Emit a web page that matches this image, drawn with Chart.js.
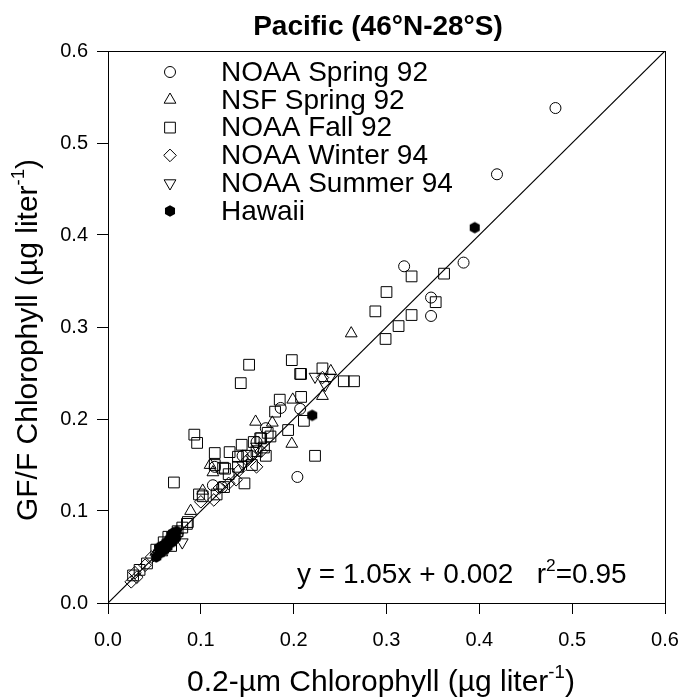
<!DOCTYPE html>
<html>
<head>
<meta charset="utf-8">
<script src="https://cdn.jsdelivr.net/npm/chart.js@4/dist/chart.umd.min.js"></script>
<style>
  html, body { margin: 0; padding: 0; background: #fff; }
  canvas { display: block; }
</style>
</head>
<body>
<canvas id="chart" width="679" height="698"></canvas>
<script>
// values: [0.2-um chl, GF/F chl]
const noaaSpring92 = [
  [0.482, 0.538], [0.419, 0.466], [0.383, 0.370], [0.319, 0.366], [0.348, 0.332],
  [0.348, 0.312], [0.204, 0.137], [0.207, 0.211], [0.186, 0.212], [0.170, 0.190],
  [0.113, 0.128], [0.123, 0.126], [0.160, 0.175], [0.145, 0.160], [0.115, 0.148]
];
const nsfSpring92 = [
  [0.262, 0.293], [0.240, 0.252], [0.231, 0.225], [0.198, 0.173], [0.199, 0.221],
  [0.159, 0.197], [0.177, 0.196], [0.113, 0.142], [0.089, 0.100], [0.110, 0.150],
  [0.070, 0.070], [0.058, 0.055], [0.102, 0.122]
];
const noaaFall92 = [
  [0.327, 0.355], [0.362, 0.358], [0.300, 0.338], [0.353, 0.327], [0.288, 0.317],
  [0.327, 0.313], [0.313, 0.301], [0.299, 0.287], [0.254, 0.241], [0.265, 0.241],
  [0.231, 0.255], [0.208, 0.249], [0.152, 0.259], [0.143, 0.239], [0.198, 0.264],
  [0.207, 0.249], [0.185, 0.221], [0.208, 0.224], [0.093, 0.183], [0.096, 0.174],
  [0.223, 0.160], [0.211, 0.198], [0.180, 0.208], [0.194, 0.188], [0.164, 0.179],
  [0.131, 0.164], [0.115, 0.163], [0.144, 0.172], [0.140, 0.159], [0.124, 0.147],
  [0.115, 0.150], [0.147, 0.130], [0.140, 0.148], [0.071, 0.131], [0.102, 0.116],
  [0.098, 0.118], [0.126, 0.146], [0.125, 0.126], [0.085, 0.086], [0.086, 0.088],
  [0.165, 0.179], [0.157, 0.175], [0.175, 0.181], [0.168, 0.169], [0.172, 0.185],
  [0.160, 0.165], [0.150, 0.160], [0.170, 0.160], [0.117, 0.118], [0.130, 0.140],
  [0.042, 0.043], [0.027, 0.030], [0.075, 0.078], [0.065, 0.072], [0.060, 0.066],
  [0.052, 0.058], [0.068, 0.062], [0.155, 0.150], [0.034, 0.036], [0.080, 0.082]
];
const noaaWinter94 = [
  [0.138, 0.134], [0.114, 0.112], [0.160, 0.148], [0.141, 0.144], [0.130, 0.130],
  [0.150, 0.155], [0.231, 0.245], [0.165, 0.165], [0.155, 0.160], [0.100, 0.110],
  [0.047, 0.050], [0.040, 0.041], [0.029, 0.033], [0.025, 0.023], [0.031, 0.028],
  [0.052, 0.052], [0.058, 0.060], [0.120, 0.125]
];
const noaaSummer94 = [
  [0.223, 0.246], [0.234, 0.237], [0.239, 0.245], [0.080, 0.066], [0.160, 0.170],
  [0.065, 0.062], [0.075, 0.072], [0.055, 0.054], [0.145, 0.150]
];
const hawaii = [
  [0.395, 0.408], [0.220, 0.204], [0.066, 0.068], [0.059, 0.058], [0.070, 0.076],
  [0.062, 0.063], [0.056, 0.054], [0.073, 0.071], [0.064, 0.061], [0.068, 0.074],
  [0.060, 0.057], [0.052, 0.050], [0.055, 0.060], [0.063, 0.066], [0.067, 0.070],
  [0.071, 0.073], [0.074, 0.078], [0.058, 0.062], [0.061, 0.059], [0.069, 0.066]
];
// the drawn line runs corner to corner
const lineX = [0, 0.6];
const lineY = [0, 0.6];
const tickValues = [0, 0.1, 0.2, 0.3, 0.4, 0.5, 0.6];

const FONT = "'Liberation Sans', Arial, sans-serif";
Chart.defaults.font.family = FONT;
Chart.defaults.color = '#000';

// filled hexagon used for the Hawaii points
function makeHexagon(r) {
    const c = document.createElement('canvas');
    const s = Math.ceil(r * 2 + 2);
    c.width = s; c.height = s;
    const g = c.getContext('2d');
    g.fillStyle = '#000';
    g.beginPath();
    for (let i = 0; i < 6; i++) {
        const a = Math.PI / 2 + i * Math.PI / 3;
        const px = s / 2 + r * Math.cos(a), py = s / 2 + r * Math.sin(a);
        if (i === 0) g.moveTo(px, py); else g.lineTo(px, py);
    }
    g.closePath();
    g.fill();
    return c;
}
const hex = makeHexagon(5.8);

const toPts = arr => arr.map(p => ({ x: p[0], y: p[1] }));

function scatterSet(label, arr, style, radius, rotation) {
    return {
        type: 'scatter',
        label: label,
        data: toPts(arr),
        pointStyle: style,
        pointRadius: radius,
        pointRotation: rotation || 0,
        borderColor: '#000',
        backgroundColor: 'rgba(0,0,0,0)',
        borderWidth: 1
    };
}

const datasets = [
    {
        type: 'line',
        label: 'fit',
        data: lineX.map((x, i) => ({ x: x, y: lineY[i] })),
        borderColor: '#000',
        borderWidth: 1.2,
        pointRadius: 0,
        fill: false
    },
    scatterSet('NOAA Spring 92', noaaSpring92, 'circle', 5.5),
    scatterSet('NSF Spring 92', nsfSpring92, 'triangle', 6.8),
    scatterSet('NOAA Fall 92', noaaFall92, 'rect', 7.6),
    scatterSet('NOAA Winter 94', noaaWinter94, 'rectRot', 6.3),
    scatterSet('NOAA Summer 94', noaaSummer94, 'triangle', 6.8, 180),
    scatterSet('Hawaii', hawaii, hex, 5.8)
];

// text with a raised part, e.g. liter^-1
function drawRich(ctx, parts, x, y, size) {
    parts.forEach(p => {
        const s = p.sup ? size * 0.62 : size;
        ctx.font = s + 'px ' + FONT;
        ctx.fillText(p.t, x, p.sup ? y - size * 0.42 : y);
        x += ctx.measureText(p.t).width;
    });
    return x;
}
function richWidth(ctx, parts, size) {
    let w = 0;
    parts.forEach(p => {
        ctx.font = (p.sup ? size * 0.62 : size) + 'px ' + FONT;
        w += ctx.measureText(p.t).width;
    });
    return w;
}

// legend inside the plot, top-left
const insideLegend = {
    id: 'insideLegend',
    afterDatasetsDraw(chart) {
        const ctx = chart.ctx;
        const rows = chart.data.datasets.filter(d => d.type === 'scatter');
        ctx.save();
        ctx.font = '28px ' + FONT;
        ctx.textBaseline = 'middle';
        ctx.fillStyle = '#000';
        rows.forEach((d, i) => {
            const y = 72 + i * 27.8;
            ctx.save();
            ctx.strokeStyle = '#000';
            ctx.fillStyle = 'rgba(0,0,0,0)';
            ctx.lineWidth = 1;
            Chart.helpers.drawPoint(ctx, {
                pointStyle: d.pointStyle,
                radius: d.pointRadius,
                rotation: d.pointRotation,
                borderWidth: 1
            }, 170, y);
            ctx.restore();
            ctx.fillText(d.label, 221, y + 1);
        });
        ctx.restore();
    }
};

// frame, title, axis titles and the regression note
const decorations = {
    id: 'decorations',
    afterDraw(chart) {
        const { ctx, chartArea: a } = chart;
        ctx.save();
        ctx.strokeStyle = '#000';
        ctx.lineWidth = 1;
        ctx.strokeRect(a.left + 0.5, a.top + 0.5, a.right - a.left, a.bottom - a.top);

        ctx.fillStyle = '#000';
        ctx.textBaseline = 'alphabetic';

        // title
        ctx.font = 'bold 28px ' + FONT;
        ctx.textAlign = 'center';
        ctx.fillText('Pacific (46°N-28°S)', 378, 35);
        ctx.textAlign = 'left';

        // x title
        const xParts = [{ t: '0.2-µm Chlorophyll (µg liter' }, { t: '-1', sup: true }, { t: ')' }];
        drawRich(ctx, xParts, 187, 691, 30);

        // y title, rotated
        const yParts = [{ t: 'GF/F Chlorophyll (µg liter' }, { t: '-1', sup: true }, { t: ')' }];
        const yw = richWidth(ctx, yParts, 30);
        ctx.save();
        ctx.translate(37, 340);
        ctx.rotate(-Math.PI / 2);
        drawRich(ctx, yParts, -yw / 2, 0, 30);
        ctx.restore();

        // regression note
        drawRich(ctx, [{ t: 'y = 1.05x + 0.002   r' }, { t: '2', sup: true }, { t: '=0.95' }], 297, 583, 28);
        ctx.restore();
    }
};

new Chart(document.getElementById('chart'), {
    data: { datasets: datasets },
    options: {
        responsive: false,
        animation: false,
        devicePixelRatio: 1,
        layout: { padding: { left: 0, right: 14, top: 51, bottom: 0 } },
        plugins: {
            legend: { display: false },
            tooltip: { enabled: false },
            title: { display: false }
        },
        scales: {
            x: {
                type: 'linear',
                position: 'bottom',
                min: 0, max: 0.6,
                afterFit: s => { s.height = 95; s.paddingLeft = 0; s.paddingRight = 0; },
                afterBuildTicks: s => { s.ticks = tickValues.map(v => ({ value: v })); },
                ticks: {
                    color: '#000',
                    font: { size: 20 },
                    padding: 14,
                    callback: v => v.toFixed(1)
                },
                grid: { drawOnChartArea: false, drawTicks: true, tickLength: 11, color: '#000' },
                border: { color: '#000', width: 1 }
            },
            y: {
                type: 'linear',
                position: 'left',
                min: 0, max: 0.6,
                afterFit: s => { s.width = 108; s.paddingTop = 0; s.paddingBottom = 0; },
                afterBuildTicks: s => { s.ticks = tickValues.map(v => ({ value: v })); },
                ticks: {
                    color: '#000',
                    font: { size: 20 },
                    padding: 9,
                    callback: v => v.toFixed(1)
                },
                grid: { drawOnChartArea: false, drawTicks: true, tickLength: 11, color: '#000' },
                border: { color: '#000', width: 1 }
            }
        }
    },
    plugins: [insideLegend, decorations]
});
</script>
</body>
</html>
